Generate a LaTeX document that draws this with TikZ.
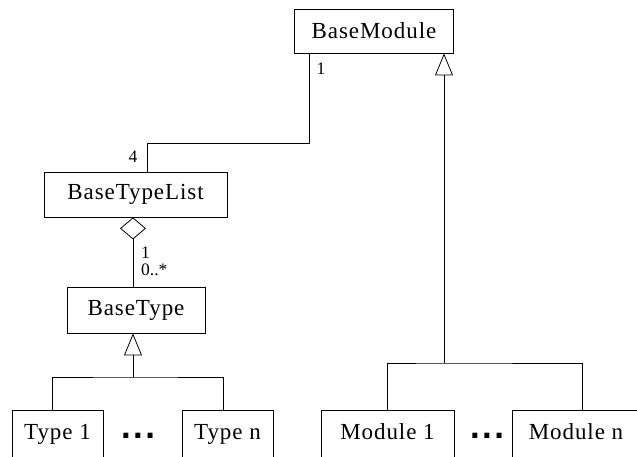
\documentclass[tikz,border=0pt]{standalone}
\usepackage{fontspec}
\setmainfont{Liberation Serif}
\newfontfamily\boxfont[LetterSpace=4]{Liberation Serif}
\newfontfamily\dotfont{DejaVu Sans}
\usetikzlibrary{arrows.meta}
\begin{document}
\begin{tikzpicture}[x=1pt,y=-1pt,
  cls/.style={draw,line width=0.8pt,inner sep=0pt,font=\boxfont\fontsize{23}{26}\selectfont},
  low/.style={text depth=12pt,minimum height=56pt},
  lbl/.style={inner sep=0pt,font=\fontsize{17.5}{19}\selectfont},
  dots/.style={inner sep=0pt,anchor=base,font=\dotfont\bfseries\fontsize{28}{30}\selectfont},
  conn/.style={line width=0.8pt},
  gen/.style={conn,-{Triangle[open,length=22pt,width=18pt,line width=0.8pt]}},
  agg/.style={conn,{Diamond[open,length=22pt,width=26pt,line width=0.8pt]}-}]
\useasboundingbox (0,0) rectangle (637,456);
\clip (0,0) rectangle (637,456);
% classes
\node[cls,minimum width=159pt,minimum height=44pt] (bm) at (374,31) {BaseModule};
\node[cls,minimum width=183pt,minimum height=45pt] (btl) at (135.5,194.5) {BaseTypeList};
\node[cls,minimum width=138pt,minimum height=46pt] (bt) at (136,310) {BaseType};
\node[cls,low,minimum width=91pt] (t1) at (57.5,438) {Type 1};
\node[cls,low,minimum width=91pt] (tn) at (227.5,438) {Type n};
\node[cls,low,minimum width=133pt] (m1) at (387.5,438) {Module 1};
\node[cls,low,minimum width=128pt] (mn) at (576,438) {Module n};
\node[dots] (d1) at (138,438.5) {.\kern1.5pt.\kern1.5pt.};
\node[dots] (d2) at (487,438.5) {.\kern1.5pt.\kern1.5pt.};
% helper coordinates
\coordinate (xa) at (309,0);
\coordinate (xb) at (147,143);
\coordinate (jm) at (444,363);
\coordinate (jt) at (133,377);
\coordinate (xt1) at (52,0);
\coordinate (xtn) at (223,0);
\coordinate (xm1) at (387,0);
\coordinate (xmn) at (582,0);
\coordinate (xd) at (133,0);
% association BaseTypeList -- BaseModule
\draw[conn] (btl.north -| xb) -- (xb) -| (bm.south -| xa);
\node[lbl] (l4) at (133,157) {4};
\node[lbl] (l1) at (321,69) {1};
% aggregation
\draw[agg] (btl.south -| xd) -- (bt.north -| xd);
\node[lbl,anchor=west] (la) at (141,253) {1};
\node[lbl,anchor=west] (lb) at (141,270) {0..*};
% generalization types
\draw[gen] (jt) -- (bt.south -| jt);
\draw[conn] (t1.north -| xt1) |- (jt) -| (tn.north -| xtn);
% generalization modules
\draw[gen] (jm) -- (bm.south -| jm);
\draw[conn] (m1.north -| xm1) |- (jm) -| (mn.north -| xmn);
\end{tikzpicture}
\end{document}
